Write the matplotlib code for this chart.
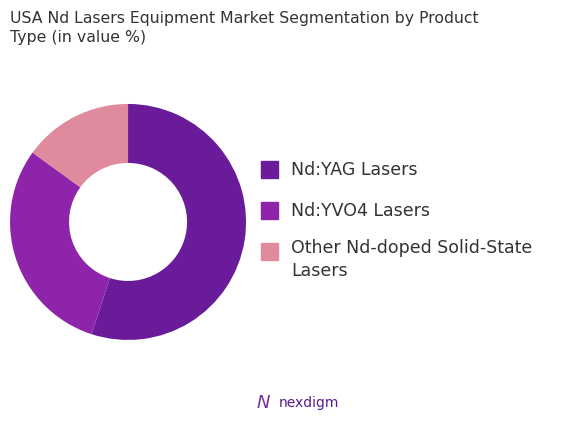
import matplotlib.pyplot as plt

labels = ["Nd:YAG Lasers", "Nd:YVO4 Lasers", "Other Nd-doped Solid-State\nLasers"]
values = [55, 30, 15]
colors = ["#6a1b9a", "#8e24aa", "#e08a9e"]

fig = plt.figure(figsize=(5.86, 4.26), dpi=100)
fig.text(0.017, 0.975, "USA Nd Lasers Equipment Market Segmentation by Product\nType (in value %)",
         ha="left", va="top", fontsize=11.3, color="#333333", linespacing=1.35)

ax = fig.add_axes([0.017, 0.202, 0.403, 0.554])
ax.pie(values, colors=colors, startangle=90, counterclock=False,
       wedgeprops=dict(width=0.5, edgecolor="none"))
ax.set_xlim(-1, 1)
ax.set_ylim(-1, 1)
ax.set_aspect("equal")

# legend drawn by hand to match spacing
ys = [0.602, 0.505, 0.41]
for lab, c, y in zip(labels, colors, ys):
    fig.patches.append(plt.Rectangle((0.445, y - 0.02), 0.03, 0.04, color=c,
                                     transform=fig.transFigure, figure=fig))
    if "\n" in lab:
        fig.text(0.497, y + 0.03, lab, ha="left", va="top", fontsize=12.5,
                 color="#333333", linespacing=1.4)
    else:
        fig.text(0.497, y, lab, ha="left", va="center", fontsize=12.5, color="#333333")

fig.text(0.475, 0.055, "nexdigm", ha="left", va="center", fontsize=10, color="#5a1a8a")
fig.text(0.45, 0.055, "N", ha="center", va="center", fontsize=13, color="#7b2ea0", style="italic")

fig.savefig("out.png", dpi=100, facecolor="white")
